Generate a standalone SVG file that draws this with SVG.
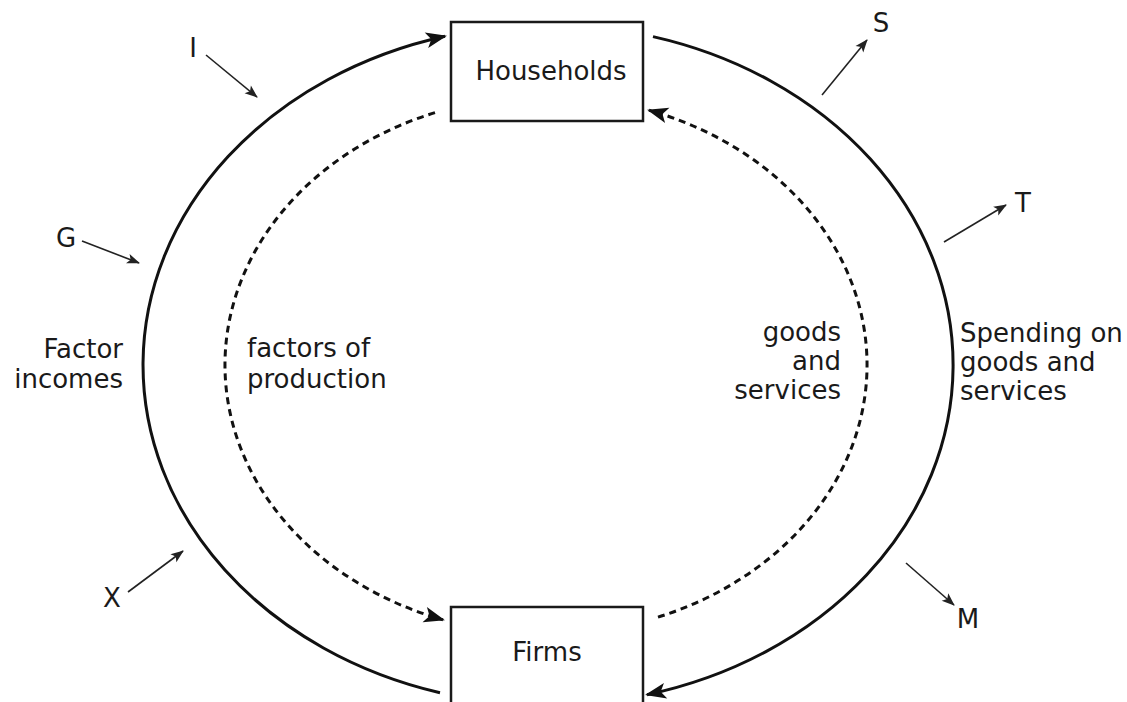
<svg xmlns="http://www.w3.org/2000/svg" width="1127" height="702" viewBox="0 0 1127 702">
  <style>
    .box { fill: #ffffff; stroke: #1a1a1a; stroke-width: 2.5; }
    .lbl { font-family: "DejaVu Sans", Verdana, sans-serif; font-size: 26px; fill: #1a1a1a; }
    .flow { fill: none; stroke: #111; stroke-width: 3; }
    .dash { fill: none; stroke: #111; stroke-width: 3; stroke-dasharray: 7 5; }
    .inj { fill: none; stroke: #222; stroke-width: 1.6; }
  </style>
  <defs>
    <marker id="big" markerUnits="userSpaceOnUse" markerWidth="22" markerHeight="16" refX="19" refY="8" orient="auto" overflow="visible">
      <path d="M0,0 L21,8 L0,16 L5,8 Z" fill="#111" stroke="none"/>
    </marker>
    <marker id="small" markerUnits="userSpaceOnUse" markerWidth="13" markerHeight="10" refX="12" refY="5" orient="auto" overflow="visible">
      <path d="M0,0 L13,5 L0,10 L3,5 Z" fill="#222" stroke="none"/>
    </marker>
  </defs>
  <rect width="1127" height="702" fill="#ffffff"/>

  <g id="connectors">
    <path id="factor-incomes" class="flow" d="M440,692.7 A405,340 0 0 1 445,36.2" marker-end="url(#big)"/>
    <path id="spending" class="flow" d="M653,36.6 A405,340 0 0 1 647,694.7" marker-end="url(#big)"/>
    <path id="factors" class="dash" d="M435,112.6 A321,269 0 0 0 443,619.8" marker-end="url(#big)"/>
    <path id="goods" class="dash" d="M658,617.1 A321,269 0 0 0 649,110.2" marker-end="url(#big)"/>
    <line id="arrow-I" class="inj" x1="206" y1="55" x2="257" y2="97" marker-end="url(#small)"/>
    <line id="arrow-G" class="inj" x1="82" y1="241" x2="139" y2="263" marker-end="url(#small)"/>
    <line id="arrow-X" class="inj" x1="128" y1="592" x2="183" y2="551" marker-end="url(#small)"/>
    <line id="arrow-S" class="inj" x1="822" y1="95" x2="867" y2="40" marker-end="url(#small)"/>
    <line id="arrow-T" class="inj" x1="944" y1="242" x2="1006" y2="205" marker-end="url(#small)"/>
    <line id="arrow-M" class="inj" x1="906" y1="563" x2="954" y2="605" marker-end="url(#small)"/>
  </g>

  <g id="households">
    <rect class="box" x="451" y="22" width="192" height="99"/>
    <text class="lbl" x="551" y="80" text-anchor="middle">Households</text>
  </g>
  <g id="firms">
    <rect class="box" x="451" y="607" width="192" height="110"/>
    <text class="lbl" x="547" y="661" text-anchor="middle">Firms</text>
  </g>

  <g id="labels">
    <text class="lbl" x="193" y="57" text-anchor="middle">I</text>
    <text class="lbl" x="66" y="247" text-anchor="middle">G</text>
    <text class="lbl" x="112" y="607" text-anchor="middle">X</text>
    <text class="lbl" x="881" y="32" text-anchor="middle">S</text>
    <text class="lbl" x="1023" y="212" text-anchor="middle">T</text>
    <text class="lbl" x="968" y="628" text-anchor="middle">M</text>
    <text class="lbl" x="123" y="358" text-anchor="end">Factor</text>
    <text class="lbl" x="123" y="388" text-anchor="end">incomes</text>
    <text class="lbl" x="247" y="357">factors of</text>
    <text class="lbl" x="247" y="388">production</text>
    <text class="lbl" x="841" y="341" text-anchor="end">goods</text>
    <text class="lbl" x="841" y="370" text-anchor="end">and</text>
    <text class="lbl" x="841" y="399" text-anchor="end">services</text>
    <text class="lbl" x="960" y="342">Spending on</text>
    <text class="lbl" x="960" y="371">goods and</text>
    <text class="lbl" x="960" y="400">services</text>
  </g>
</svg>
